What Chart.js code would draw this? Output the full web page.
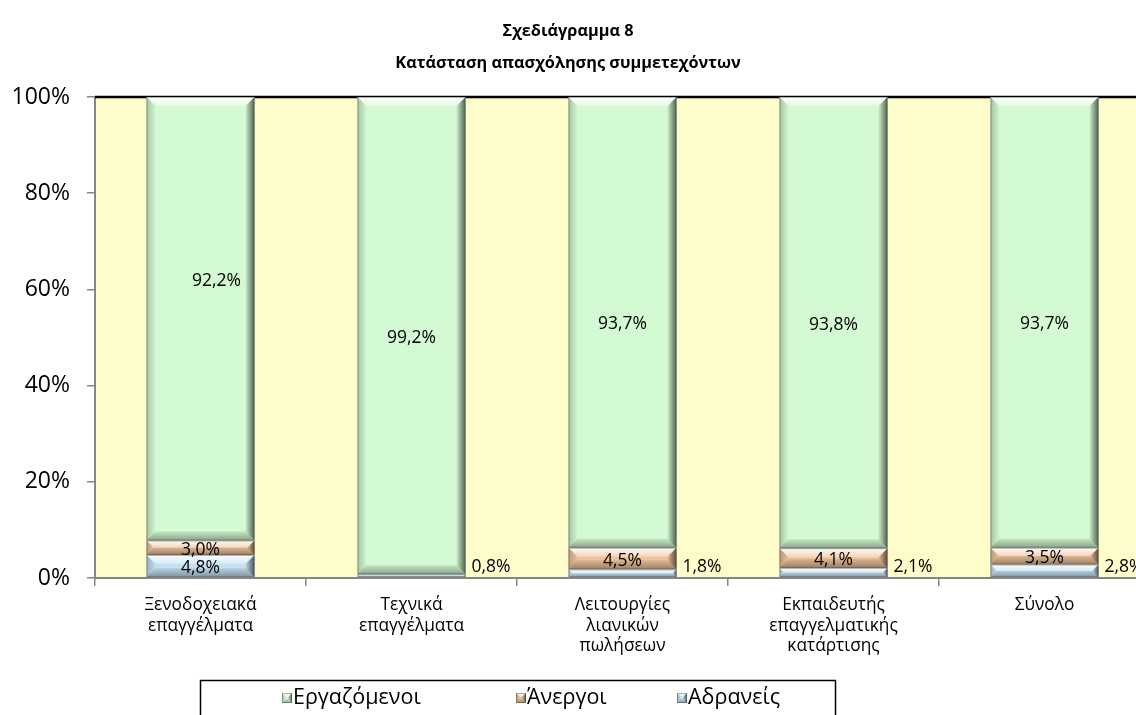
<!DOCTYPE html>
<html><head><meta charset="utf-8">
<script src="https://cdn.jsdelivr.net/npm/chart.js@4/dist/chart.umd.min.js"></script>
<style>
html,body{margin:0;padding:0;overflow:hidden;background:#fff;width:1136px;height:715px}
#wrap{position:absolute;left:0;top:0;width:1160px;height:715px}
</style>
</head><body><div id="wrap"><canvas id="c"></canvas></div>
<script>
// ---- data ----
const categories = [["Ξενοδοχειακά","επαγγέλματα"],["Τεχνικά","επαγγέλματα"],["Λειτουργίες","λιανικών","πωλήσεων"],["Εκπαιδευτής","επαγγελματικής","κατάρτισης"],["Σύνολο"]];
const seriesNames = ["Αδρανείς","Άνεργοι","Εργαζόμενοι"];
const inactive = [4.8, 0.8, 1.8, 2.1, 2.8];
const unemployed = [3.0, 0, 4.5, 4.1, 3.5];
const employed = [92.2, 99.2, 93.7, 93.8, 93.7];
const yTickValues = [0, 20, 40, 60, 80, 100];
const titleLines = ["Σχεδιάγραμμα 8", "Κατάσταση απασχόλησης συμμετεχόντων"];

const FONT = "'Open Sans', 'Noto Sans', sans-serif";
const colors = ['#C4E0F2', '#EEC39C', '#D4FAD4'];

function fmt(v){ return v.toFixed(1).replace('.', ',') + '%'; }

function poly(ctx, pts, fill){
  ctx.beginPath(); ctx.moveTo(pts[0][0], pts[0][1]);
  for (let i = 1; i < pts.length; i++) ctx.lineTo(pts[i][0], pts[i][1]);
  ctx.closePath(); ctx.fillStyle = fill; ctx.fill();
}
function bevel(ctx, l, t, r, b, size){
  const w = r - l, h = b - t;
  if (w <= 0 || h <= 0) return;
  const s = Math.min(size, w / 2, h / 2);
  let g = ctx.createLinearGradient(0, t, 0, t + s);
  g.addColorStop(0, 'rgba(255,255,255,0.95)'); g.addColorStop(1, 'rgba(255,255,255,0.3)');
  poly(ctx, [[l,t],[r,t],[r-s,t+s],[l+s,t+s]], g);
  g = ctx.createLinearGradient(0, b - s, 0, b);
  g.addColorStop(0, 'rgba(0,0,0,0.08)'); g.addColorStop(1, 'rgba(0,0,0,0.35)');
  poly(ctx, [[l,b],[r,b],[r-s,b-s],[l+s,b-s]], g);
  g = ctx.createLinearGradient(r - s, 0, r, 0);
  g.addColorStop(0, 'rgba(0,0,0,0.05)'); g.addColorStop(1, 'rgba(0,0,0,0.62)');
  poly(ctx, [[r,t],[r,b],[r-s,b-s],[r-s,t+s]], g);
  g = ctx.createLinearGradient(l, 0, l + s, 0);
  g.addColorStop(0, 'rgba(0,0,0,0.22)'); g.addColorStop(1, 'rgba(0,0,0,0.02)');
  poly(ctx, [[l,t],[l,b],[l+s,b-s],[l+s,t+s]], g);
  ctx.strokeStyle = 'rgba(70,80,70,0.45)'; ctx.lineWidth = 1;
  ctx.strokeRect(l + 0.5, t + 0.5, w - 1, h - 1);
}

const decor = {
  id: 'decor',
  beforeDraw(chart){
    const {ctx, chartArea: a} = chart;
    ctx.save();
    ctx.fillStyle = '#fff'; ctx.fillRect(0, 0, chart.width, chart.height);
    ctx.fillStyle = '#FFFCCC'; ctx.fillRect(a.left, a.top, a.right - a.left, a.bottom - a.top);
    ctx.restore();
  },
  beforeDatasetsDraw(chart){
    const {ctx, chartArea: a} = chart;
    ctx.save(); ctx.strokeStyle = '#000'; ctx.lineWidth = 2.5;
    ctx.beginPath(); ctx.moveTo(a.left, a.top); ctx.lineTo(a.right, a.top); ctx.stroke();
    ctx.restore();
  },
  afterDatasetsDraw(chart, args, opts){
    const ctx = chart.ctx;
    ctx.save();
    chart.data.datasets.forEach((ds, di) => {
      chart.getDatasetMeta(di).data.forEach((el, i) => {
        const p = el.getProps(['x','y','base','width'], true);
        const top = Math.min(p.y, p.base), bot = Math.max(p.y, p.base);
        if (ds.data[i] > 0) bevel(ctx, p.x - p.width/2, top, p.x + p.width/2, bot, 9);
      });
    });
    ctx.font = '17.5px ' + FONT; ctx.fillStyle = '#000';
    const baseY = chart.scales.y.getPixelForValue(0);
    chart.data.datasets.forEach((ds, di) => {
      chart.getDatasetMeta(di).data.forEach((el, i) => {
        const v = ds.data[i];
        if (!v) return;
        const p = el.getProps(['x','y','base','width'], true);
        const cy = (p.y + p.base) / 2;
        if (di === 0 && v < 3) {
          ctx.textAlign = 'left'; ctx.textBaseline = 'middle';
          ctx.fillText(fmt(v), p.x + p.width/2 + 6, baseY - 11);
        } else {
          ctx.textAlign = 'center'; ctx.textBaseline = 'middle';
          const sy = (di === 2 ? opts.topShift[i] : 0);
          const sx = (di === 2 ? opts.topShiftX[i] : 0);
          ctx.fillText(fmt(v), p.x + sx, cy + 2 + sy);
        }
      });
    });
    ctx.restore();
  },
  afterDraw(chart, args, opts){
    const ctx = chart.ctx;
    ctx.save();
    ctx.fillStyle = '#000'; ctx.textAlign = 'center'; ctx.textBaseline = 'middle';
    ctx.font = 'bold 16.3px ' + FONT;
    titleLines.forEach((t, k) => ctx.fillText(t, opts.titleX, opts.titleY[k]));
    const L = opts.legend;
    ctx.strokeStyle = '#000'; ctx.lineWidth = 1.5;
    ctx.strokeRect(L.left, L.top, L.width, L.height);
    ctx.font = '21.5px ' + FONT; ctx.textAlign = 'left'; ctx.textBaseline = 'middle';
    [2, 1, 0].forEach((di, k) => {
      const ds = chart.data.datasets[di];
      const x = L.itemX[k], y = L.itemY;
      ctx.fillStyle = ds.backgroundColor; ctx.fillRect(x, y - 5, 10, 10);
      bevel(ctx, x, y - 5, x + 10, y + 5, 4);
      ctx.fillStyle = '#000';
      ctx.fillText(ds.label, x + 11, y);
    });
    ctx.restore();
  }
};

const datasets = [
  {label: seriesNames[0], data: inactive, backgroundColor: colors[0]},
  {label: seriesNames[1], data: unemployed, backgroundColor: colors[1]},
  {label: seriesNames[2], data: employed, backgroundColor: colors[2]}
].map(d => Object.assign(d, {barPercentage: 0.512, categoryPercentage: 1, borderWidth: 0}));

new Chart(document.getElementById('c'), {
  type: 'bar',
  data: {labels: categories, datasets},
  options: {
    responsive: true, maintainAspectRatio: false, animation: false,
    layout: {padding: {top: 97, right: 10, left: 0, bottom: 0}},
    plugins: {
      legend: {display: false}, title: {display: false}, tooltip: {enabled: false},
      decor: {
        topShift: [-40, 0, 0, 0, 0],
        topShiftX: [16, 0, 0, 0, 0],
        titleX: 568, titleY: [31, 63],
        legend: {left: 200.5, top: 680.5, width: 635, height: 60, itemX: [282, 516, 677], itemY: 698}
      }
    },
    scales: {
      x: {
        stacked: true,
        afterFit: s => { s.height = 137; },
        grid: {drawOnChartArea: false, offset: true, tickLength: 8, color: '#868686', lineWidth: 1.5},
        border: {color: '#868686', width: 2},
        ticks: {color: '#000', padding: 9, font: {family: FONT, size: 17.3, lineHeight: 1.19}}
      },
      y: {
        stacked: true, min: 0, max: 100,
        afterFit: s => { s.width = 95; },
        afterBuildTicks: s => { s.ticks = yTickValues.map(v => ({value: v})); },
        grid: {drawOnChartArea: false, tickLength: 8, color: '#868686', lineWidth: 1.5},
        border: {color: '#868686', width: 2},
        ticks: {color: '#000', padding: 17, font: {family: FONT, size: 23}, callback: v => v + '%'}
      }
    }
  },
  plugins: [decor]
});
</script>
</body></html>
